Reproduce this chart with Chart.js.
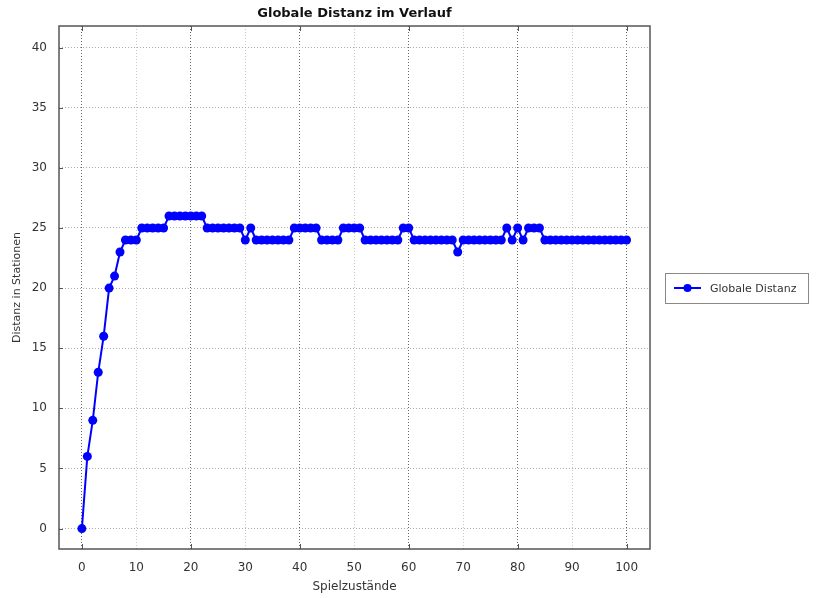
<!DOCTYPE html>
<html>
<head>
<meta charset="utf-8">
<title>Globale Distanz im Verlauf</title>
<script src="https://cdn.jsdelivr.net/npm/chart.js@4/dist/chart.umd.min.js"></script>
<style>
  html, body { margin: 0; padding: 0; background: #fff; }
  #wrap { width: 816px; height: 598px; }
</style>
</head>
<body>
<div id="wrap"><canvas id="distChart" width="816" height="598"></canvas></div>
<script>
// Spielzustand 0..100 und globale Distanz je Zustand
const states = [];
for (let i = 0; i <= 100; i++) states.push(i);

const distance = [
     0,  6,  9, 13, 16, 20, 21, 23, 24, 24,
    24, 25, 25, 25, 25, 25, 26, 26, 26, 26,
    26, 26, 26, 25, 25, 25, 25, 25, 25, 25,
    24, 25, 24, 24, 24, 24, 24, 24, 24, 25,
    25, 25, 25, 25, 24, 24, 24, 24, 25, 25,
    25, 25, 24, 24, 24, 24, 24, 24, 24, 25,
    25, 24, 24, 24, 24, 24, 24, 24, 24, 23,
    24, 24, 24, 24, 24, 24, 24, 24, 25, 24,
    25, 24, 25, 25, 25, 24, 24, 24, 24, 24,
    24, 24, 24, 24, 24, 24, 24, 24, 24, 24,
    24
];

const xTicks = [0, 10, 20, 30, 40, 50, 60, 70, 80, 90, 100];
const yTicks = [0, 5, 10, 15, 20, 25, 30, 35, 40];

const chartTitle = "Globale Distanz im Verlauf";
const seriesName = "Globale Distanz";
const xTitle = "Spielzustände";
const yTitle = "Distanz in Stationen";

const FONT = "'DejaVu Sans', sans-serif";
const BLUE = "#0000ff";

// Rahmen, innere Ticks, Titel und Legende
const framePlugin = {
    id: "frame",
    afterDraw(chart) {
        const { ctx, chartArea: a, scales } = chart;
        ctx.save();

        // kurze Ticks an der Innenseite des Rahmens
        ctx.strokeStyle = "#555";
        ctx.lineWidth = 1;
        ctx.beginPath();
        xTicks.filter(v => v % 20 === 0).forEach(v => {
            const px = Math.round(scales.x.getPixelForValue(v)) + 0.5;
            ctx.moveTo(px, a.bottom); ctx.lineTo(px, a.bottom - 5);
            ctx.moveTo(px, a.top);    ctx.lineTo(px, a.top + 5);
        });
        yTicks.forEach(v => {
            const py = Math.round(scales.y.getPixelForValue(v)) + 0.5;
            ctx.moveTo(a.left, py); ctx.lineTo(a.left + 4, py);
        });
        ctx.stroke();

        // Rahmen
        ctx.strokeStyle = "#555";
        ctx.lineWidth = 1.5;
        ctx.strokeRect(a.left, a.top, a.right - a.left, a.bottom - a.top);

        // Titel
        ctx.fillStyle = "#111";
        ctx.font = "bold 13px " + FONT;
        ctx.textAlign = "center";
        ctx.textBaseline = "middle";
        ctx.fillText(chartTitle, (a.left + a.right) / 2, 14);

        // Legende
        const lx = 665, ly = 273, lw = 143, lh = 30;
        ctx.fillStyle = "#fff";
        ctx.fillRect(lx, ly, lw, lh);
        ctx.strokeStyle = "#888";
        ctx.lineWidth = 1;
        ctx.strokeRect(lx + 0.5, ly + 0.5, lw, lh);
        const cy = ly + lh / 2;
        ctx.strokeStyle = BLUE;
        ctx.lineWidth = 2;
        ctx.beginPath();
        ctx.moveTo(674, cy); ctx.lineTo(701, cy);
        ctx.stroke();
        ctx.fillStyle = BLUE;
        ctx.beginPath();
        ctx.arc(687.5, cy, 4, 0, Math.PI * 2);
        ctx.fill();
        ctx.fillStyle = "#333";
        ctx.font = "11px " + FONT;
        ctx.textAlign = "left";
        ctx.fillText(seriesName, 710, cy + 1);

        ctx.restore();
    }
};

// gepunktete Gitterlinien (in v4 steuert border.dash die Gitterstriche)
const gridDash = [1, 2];

new Chart(document.getElementById("distChart"), {
    type: "line",
    data: {
        datasets: [{
            label: seriesName,
            data: states.map((s, i) => ({ x: s, y: distance[i] })),
            borderColor: BLUE,
            backgroundColor: BLUE,
            borderWidth: 2,
            pointRadius: 4.5,
            pointBorderWidth: 0,
            pointBackgroundColor: BLUE,
            tension: 0
        }]
    },
    options: {
        responsive: false,
        animation: false,
        layout: { padding: { top: 26, right: 166, left: 0, bottom: 0 } },
        plugins: {
            legend: { display: false },
            title: { display: false },
            tooltip: { enabled: false }
        },
        scales: {
            x: {
                type: "linear",
                min: -4.2,
                max: 104.3,
                afterBuildTicks: s => { s.ticks = xTicks.map(v => ({ value: v })); },
                afterFit: s => { s.height = 49; },
                border: { display: false, dash: gridDash },
                grid: {
                    drawTicks: false,
                    lineWidth: 1,
                    color: c => (c.tick && c.tick.value % 20 === 0) ? "#666" : "#c8c8c8"
                },
                ticks: {
                    padding: 12,
                    color: "#333",
                    font: { family: FONT, size: 12 }
                },
                title: {
                    display: true,
                    text: xTitle,
                    color: "#333",
                    font: { family: FONT, size: 12 },
                    padding: { top: 0, bottom: 4 }
                }
            },
            y: {
                type: "linear",
                min: -1.7,
                max: 41.8,
                afterBuildTicks: s => { s.ticks = yTicks.map(v => ({ value: v })); },
                afterFit: s => { s.width = 59; },
                border: { display: false, dash: gridDash },
                grid: {
                    drawTicks: false,
                    lineWidth: 1,
                    color: "#aaa"
                },
                ticks: {
                    padding: 12,
                    color: "#333",
                    font: { family: FONT, size: 12 }
                },
                title: {
                    display: true,
                    text: yTitle,
                    color: "#333",
                    font: { family: FONT, size: 11 },
                    padding: { top: 11, bottom: 0 }
                }
            }
        }
    },
    plugins: [framePlugin]
});
</script>
</body>
</html>
